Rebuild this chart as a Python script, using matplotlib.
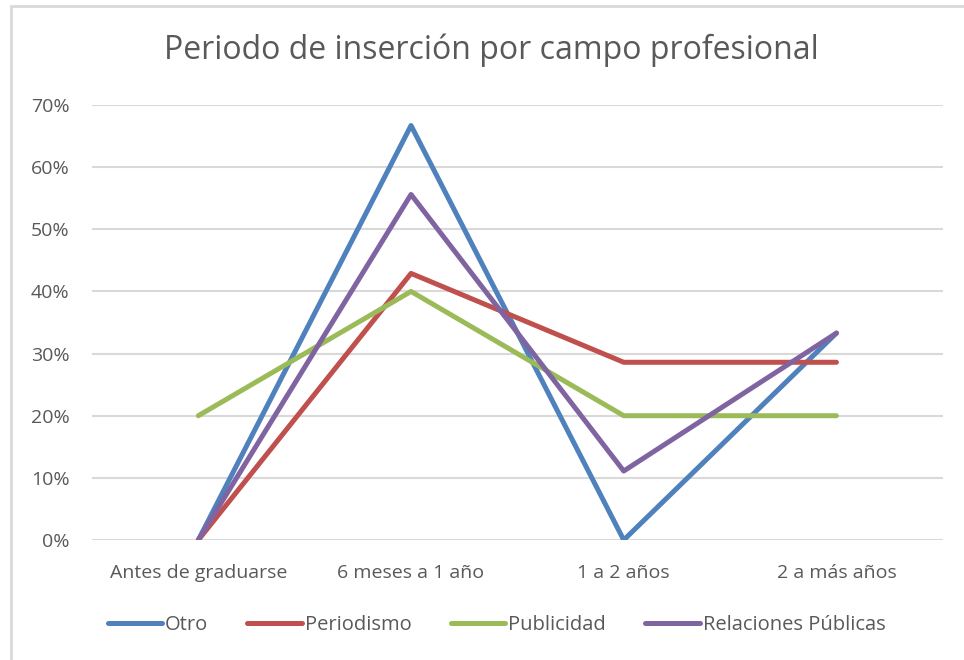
import matplotlib.pyplot as plt
from matplotlib.patches import Rectangle
from matplotlib.ticker import PercentFormatter

plt.rcParams['font.family'] = ['Open Sans', 'DejaVu Sans']

categorias = ['Antes de graduarse', '6 meses a 1 año', '1 a 2 años', '2 a más años']
otro = [0, 66.7, 0, 33.3]
periodismo = [0, 42.9, 28.6, 28.6]
publicidad = [20, 40, 20, 20]
relaciones = [0, 55.6, 11.1, 33.3]

series = [('Otro', otro, '#4F81BD'),
          ('Periodismo', periodismo, '#C0504D'),
          ('Publicidad', publicidad, '#9BBB59'),
          ('Relaciones Públicas', relaciones, '#8064A2')]

fig = plt.figure(figsize=(9.64, 6.6), dpi=100)
ax = fig.add_axes([0.0954, 0.1818, 0.8826, 0.6591])

x = list(range(len(categorias)))
for nombre, vals, col in series:
    ax.plot(x, vals, color=col, lw=3.6, label=nombre, solid_capstyle='round', zorder=3)

ax.set_xlim(-0.5, 3.5)
ax.set_ylim(0, 70)
ax.set_yticks(range(0, 71, 10))
ax.yaxis.set_major_formatter(PercentFormatter(decimals=0))
ax.set_xticks(x)
ax.set_xticklabels(categorias)
ax.grid(axis='y', color='#d9d9d9', lw=1.5)
ax.set_axisbelow(True)
for s in ax.spines.values():
    s.set_visible(False)
ax.tick_params(length=0, labelsize=14, labelcolor='#595959')
ax.tick_params(axis='x', pad=17)
ax.tick_params(axis='y', pad=16)

fig.text(0.51, 0.924, 'Periodo de inserción por campo profesional', ha='center', va='center',
         fontsize=23, color='#595959')

leg = fig.legend(loc='center', bbox_to_anchor=(0.515, 0.053), ncol=4, frameon=False,
                 fontsize=14.5, handlelength=2.7, columnspacing=1.95, handletextpad=0.15)
for t in leg.get_texts():
    t.set_color('#595959')

fig.patches.append(Rectangle((11 / 964, -0.1), 1.2, 1 - 6 / 660 + 0.1, transform=fig.transFigure,
                             fill=False, edgecolor='#d9d9d9', lw=2))

fig.savefig('out.png', dpi=100)
